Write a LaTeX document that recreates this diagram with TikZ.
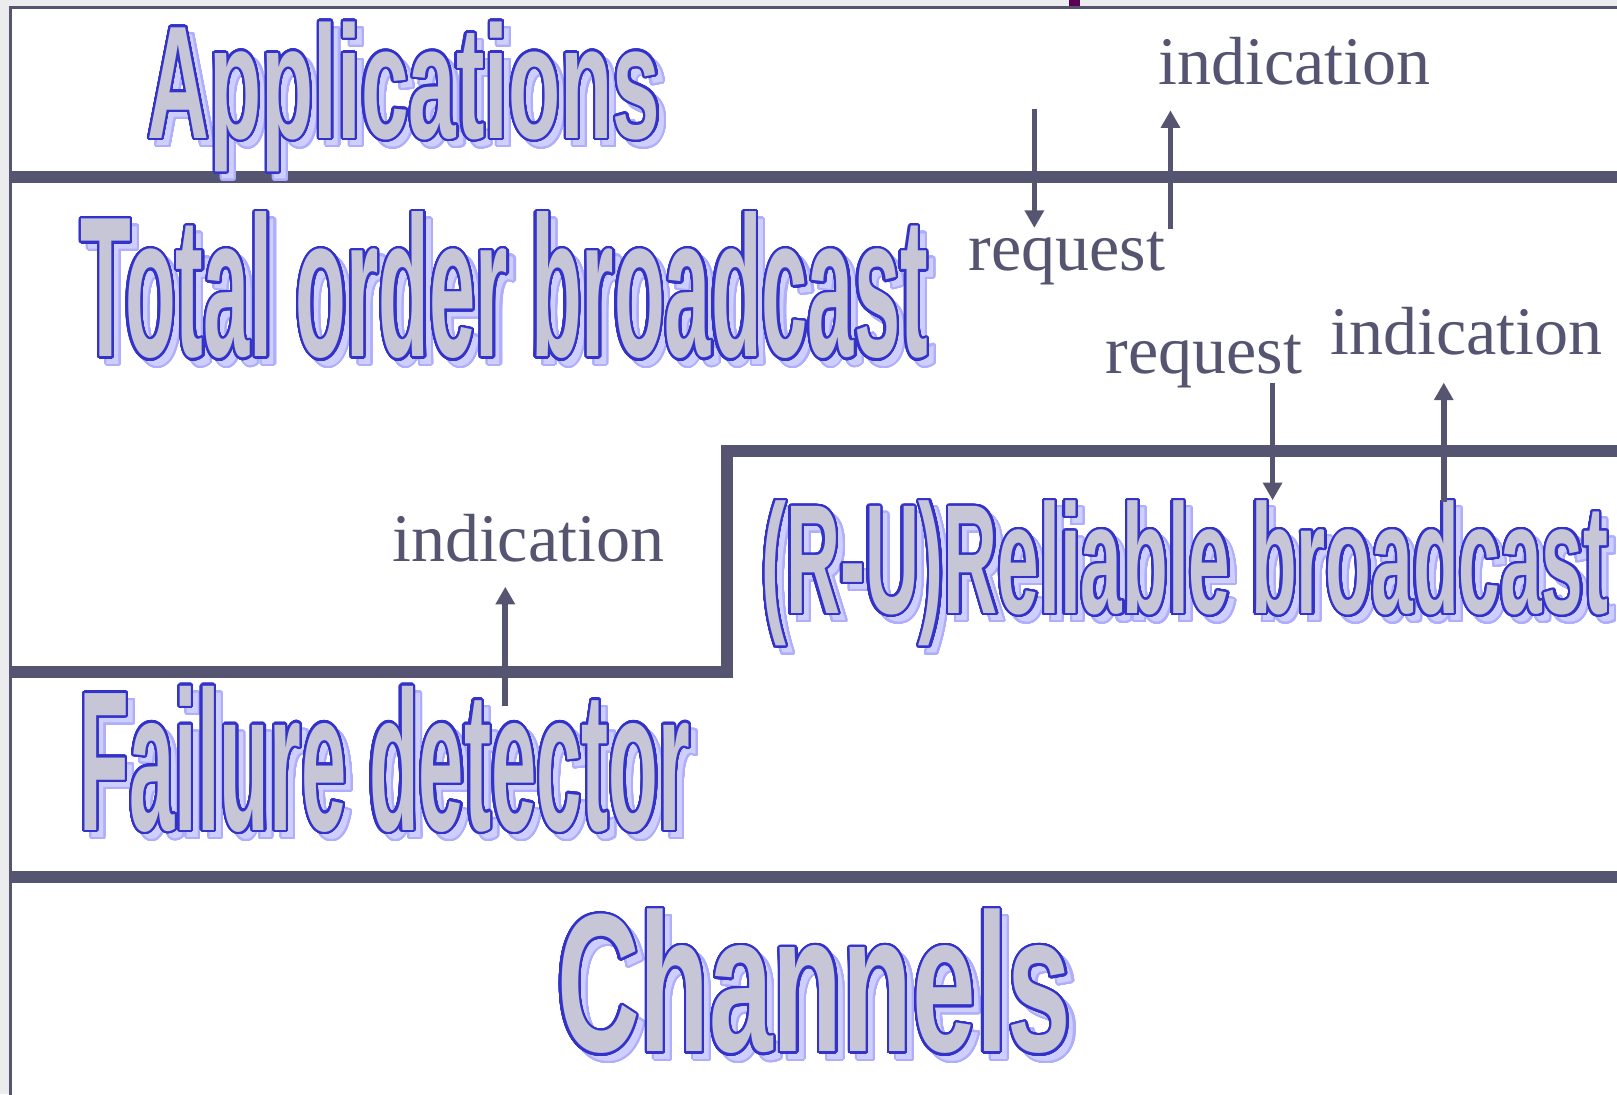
\documentclass[tikz,border=0pt]{standalone}
\usepackage{fontspec}
\setmainfont{Liberation Serif}
\usepackage[copies]{contour}
\usetikzlibrary{arrows.meta}
\newfontfamily\waApp{Liberation Sans}[FakeStretch=0.531]
\newfontfamily\waTot{Liberation Sans}[FakeStretch=0.415]
\newfontfamily\waRel{Liberation Sans}[FakeStretch=0.48]
\newfontfamily\waFai{Liberation Sans}[FakeStretch=0.409]
\newfontfamily\waCha{Liberation Sans}[FakeStretch=0.58]
\definecolor{barc}{HTML}{555572}
\definecolor{wline}{HTML}{3333CC}
\definecolor{wfill}{HTML}{C6C6D6}
\definecolor{sline}{HTML}{AEAEFA}
\definecolor{sfill}{HTML}{CFCFFF}
\definecolor{bgout}{HTML}{ECECEE}
\definecolor{markc}{HTML}{5A0052}
\contournumber{48}
\newcommand\mywordart[5]{%
  \node[wordshadow] (#1s) at (#2) {#3\bfseries\fontsize{#4}{#4}\selectfont\contourlength{2pt}\contour{sline}{#5}};
  \node[wordmain] (#1) at (#2) {#3\bfseries\fontsize{#4}{#4}\selectfont\contourlength{2.2pt}\contour{wline}{#5}};}
\begin{document}
\begin{tikzpicture}[x=1pt,y=-1pt,
  wordmain/.style={anchor=base west, inner sep=0pt, text=wfill},
  wordshadow/.style={anchor=base west, inner sep=0pt, text=sfill, xshift=7pt, yshift=-7pt},
  lbl/.style={anchor=base west, inner sep=0pt, text=barc, font=\fontsize{66}{66}\selectfont},
  layerbar/.style={draw=barc, line width=11.5pt, line join=miter},
  callarrow/.style={draw=barc, line width=5.5pt, -{Triangle[width=18pt,length=17pt]}},
  frameline/.style={draw=barc, line width=2.5pt}]
\useasboundingbox (0,0) rectangle (1568,1061);
\fill[bgout] (0,0) rectangle (1568,1061);
\fill[white] (10,7) rectangle (1572,1065);
\coordinate (fbl) at (10,1070);
\coordinate (ftl) at (10,7);
\coordinate (ftr) at (1575,7);
\draw[frameline] (fbl) -- (ftl) -- (ftr);
\fill[markc] (1037,-2) rectangle (1047,6);
% layer bars
\coordinate (b1l) at (10,172);
\coordinate (b1r) at (1580,172);
\draw[layerbar] (b1l) -- (b1r);
\coordinate (s1) at (10,652);
\coordinate (s2) at (705,652);
\coordinate (s3) at (705,437);
\coordinate (s4) at (1580,437);
\draw[layerbar] (s1) -- (s2) -- (s3) -- (s4);
\coordinate (b3l) at (10,850);
\coordinate (b3r) at (1580,850);
\draw[layerbar] (b3l) -- (b3r);
% word art
\mywordart{app}{143,134}{\waApp}{156}{Applications}
\mywordart{tob}{78,346}{\waTot}{194}{Total order broadcast}
\mywordart{rb}{738,595}{\waRel}{151}{(R-U)Reliable broadcast}
\mywordart{fd}{77,805}{\waFai}{193}{Failure detector}
\mywordart{ch}{540,1020}{\waCha}{191}{Channels}
% labels
\node[lbl] (ind1) at (1123,82) {indication};
\node[lbl] (req1) at (939,262) {request};
\node[lbl] (req2) at (1072,362) {request};
\node[lbl] (ind2) at (1290,344) {indication};
\node[lbl] (ind3) at (380,544) {indication};
% arrows
\coordinate (a1s) at (1003,106);
\coordinate (a1e) at (1003,221);
\draw[callarrow] (a1s) -- (a1e);
\coordinate (a2s) at (1135,222);
\coordinate (a2e) at (1135,107);
\draw[callarrow] (a2s) -- (a2e);
\coordinate (a3s) at (1234,371);
\coordinate (a3e) at (1234,485);
\draw[callarrow] (a3s) -- (a3e);
\coordinate (a4s) at (1400,487);
\coordinate (a4e) at (1400,371);
\draw[callarrow] (a4s) -- (a4e);
\coordinate (a5s) at (490,685);
\coordinate (a5e) at (490,569);
\draw[callarrow] (a5s) -- (a5e);
\end{tikzpicture}
\end{document}
